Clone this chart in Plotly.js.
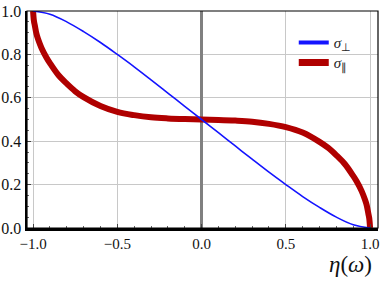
<!DOCTYPE html>
<html><head><meta charset="utf-8">
<script src="https://cdn.plot.ly/plotly-3.0.1.min.js"></script>
<style>html,body{margin:0;padding:0;background:#fff}#c{width:382px;height:291px}</style>
</head><body><div id="c"></div>
<script>
// data
const etaPerp = [-1.0,-0.9,-0.8,-0.7,-0.6,-0.5,-0.4,-0.3,-0.2,-0.1,0.0,0.1,0.2,0.3,0.4,0.5,0.6,0.7,0.8,0.9,1.0];
const sigmaPerp = [1.0,0.985,0.95,0.905,0.855,0.80,0.743,0.683,0.622,0.561,0.5,0.439,0.378,0.317,0.257,0.2,0.145,0.095,0.05,0.015,0.0];
const etaPar = [-1.0,-0.995,-0.99,-0.98,-0.97,-0.95,-0.92,-0.9,-0.85,-0.8,-0.75,-0.7,-0.6,-0.5,-0.4,-0.3,-0.2,-0.1,0.0,0.1,0.2,0.3,0.4,0.5,0.6,0.7,0.75,0.8,0.85,0.9,0.92,0.95,0.97,0.98,0.99,0.995,1.0];
const sigmaPar = [1.0,0.955,0.935,0.895,0.87,0.83,0.785,0.76,0.705,0.665,0.63,0.603,0.562,0.535,0.52,0.51,0.505,0.502,0.5,0.498,0.495,0.49,0.48,0.465,0.44,0.397,0.37,0.335,0.295,0.24,0.215,0.17,0.13,0.105,0.065,0.045,0.0];
const xTicks = [-1.0,-0.5,0.0,0.5,1.0];
const yTicks = [0.0,0.2,0.4,0.6,0.8,1.0];
const labelPerp = "<i>σ</i><sub>⊥</sub>";
const labelPar = "<i>σ</i><sub>∥</sub>";
const xTitle = "<i>η</i>(<i>ω</i>)";

const serif = "Liberation Serif";
const perpColor = "#1414ff", parColor = "#b00000";
const legFont = {family: serif, size: 15, color: "#222"};
const traces = [
  {x: etaPar, y: sigmaPar, mode: "lines", showlegend: false,
   line: {color: parColor, width: 6, shape: "spline", smoothing: 1}},
  {x: etaPerp, y: sigmaPerp, mode: "lines", showlegend: false,
   line: {color: perpColor, width: 1.6, shape: "spline", smoothing: 1}},
  // legend entries (no points of their own)
  {x: [null], y: [null], mode: "lines", name: labelPerp, legend: "legend",
   line: {color: perpColor, width: 4}},
  {x: [null], y: [null], mode: "lines", name: labelPar, legend: "legend2",
   line: {color: parColor, width: 7}}
];
const layout = {
  width: 382, height: 291,
  margin: {l: 27, r: 4, t: 11, b: 63},
  paper_bgcolor: "#fff", plot_bgcolor: "#fff",
  showlegend: true,
  legend: {x: 0.76, y: 0.93, xanchor: "left", yanchor: "top", bgcolor: "rgba(0,0,0,0)",
           font: legFont, itemwidth: 30},
  legend2: {x: 0.76, y: 0.838, xanchor: "left", yanchor: "top", bgcolor: "rgba(0,0,0,0)",
           font: legFont, itemwidth: 30},
  xaxis: {range: [-1.036, 1.047], tickvals: xTicks, ticktext: xTicks.map(v => (v < 0 ? "\u2212" : "") + Math.abs(v).toFixed(1)),
          showgrid: true, gridcolor: "#c8c8c8", gridwidth: 1,
          zeroline: true, zerolinecolor: "#808080", zerolinewidth: 2.5,
          showline: true, linecolor: "#000", linewidth: 2.5,
          ticks: "inside", ticklen: 4, tickcolor: "#444",
          minor: {dtick: 0.1, tick0: 0, ticklen: 2, ticks: "inside", tickcolor: "#666", showgrid: false},
          tickfont: {family: serif, size: 15, color: "#111"}},
  yaxis: {range: [0, 1], tickvals: yTicks, ticktext: yTicks.map(v => v.toFixed(1)),
          showgrid: true, gridcolor: "#c8c8c8", gridwidth: 1,
          zeroline: false,
          showline: true, linecolor: "#000", linewidth: 2.5,
          ticks: "inside", ticklen: 4, tickcolor: "#444",
          minor: {dtick: 0.05, tick0: 0, ticklen: 2, ticks: "inside", tickcolor: "#666", showgrid: false},
          tickfont: {family: serif, size: 16, color: "#111"}},
  shapes: [{type: "rect", xref: "paper", yref: "paper", x0: 0, x1: 1, y0: 0, y1: 1,
            line: {color: "#000", width: 1.2}, layer: "above"}],
  annotations: [{text: xTitle, xref: "paper", yref: "paper", x: 0.988, y: -0.1, xanchor: "right", yanchor: "top",
                 showarrow: false, font: {family: serif, size: 23, color: "#111"}}]
};
Plotly.newPlot("c", traces, layout, {displayModeBar: false, staticPlot: true});
</script>
</body></html>
